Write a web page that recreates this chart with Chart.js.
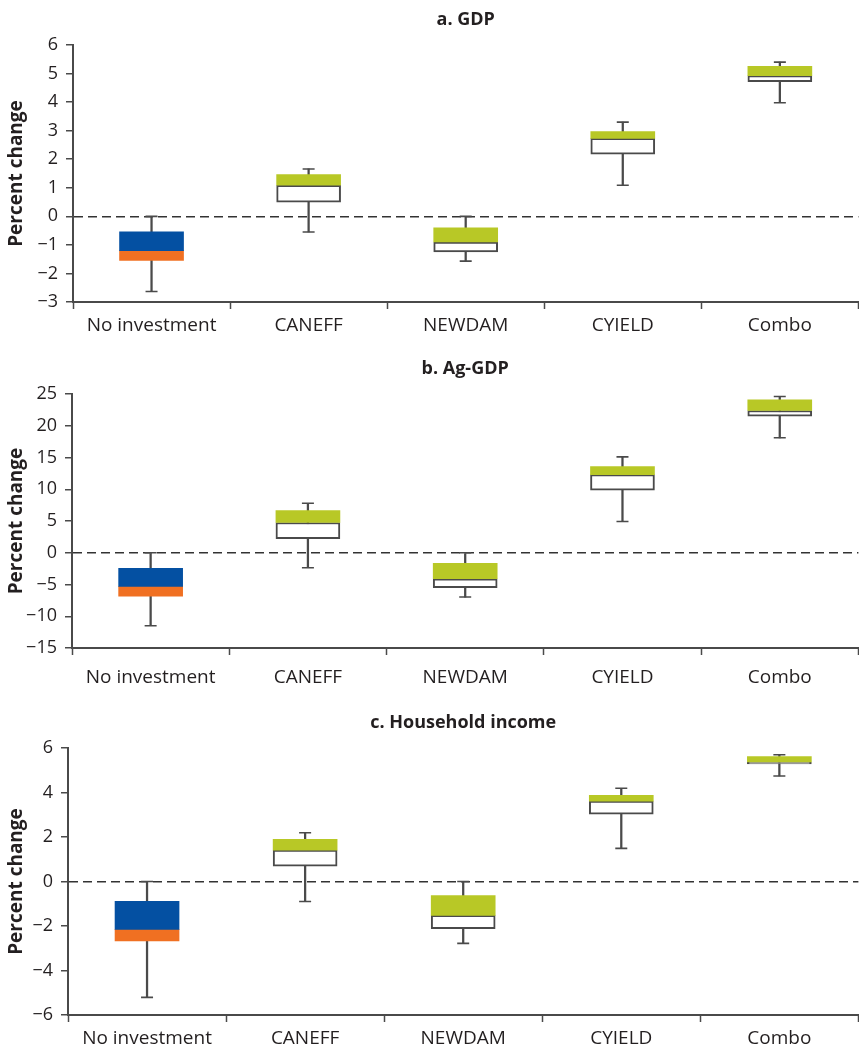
<!DOCTYPE html>
<html>
<head>
<meta charset="utf-8">
<script src="https://cdn.jsdelivr.net/npm/chart.js@4.4.1/dist/chart.umd.min.js"></script>
<style>
  html, body { margin: 0; padding: 0; background: #fff; overflow: hidden; }
  body { width: 859px; height: 1048px; position: relative; }
  canvas { position: absolute; left: 0; }
</style>
</head>
<body>
<canvas id="gdp"></canvas>
<canvas id="aggdp"></canvas>
<canvas id="income"></canvas>
<script>
const categories = ['No investment', 'CANEFF', 'NEWDAM', 'CYIELD', 'Combo'];

// a. GDP
const gdpMin = [-2.63, -0.55, -1.57, 1.09, 3.98];
const gdpQ1  = [-1.54, 0.50, -1.25, 2.18, 4.72];
const gdpMed = [-1.20, 1.09, -0.90, 2.73, 4.93];
const gdpQ3  = [-0.54, 1.46, -0.40, 2.97, 5.25];
const gdpMax = [0, 1.66, 0, 3.30, 5.40];

// b. Ag-GDP
const agMin = [-11.5, -2.36, -6.98, 4.92, 18.1];
const agQ1  = [-6.82, 2.20, -5.50, 9.85, 21.5];
const agMed = [-5.30, 4.77, -4.10, 12.3, 22.4];
const agQ3  = [-2.47, 6.65, -1.68, 13.57, 24.1];
const agMax = [0, 7.80, 0, 15.1, 24.6];

// c. Household income
const incMin = [-5.21, -0.90, -2.78, 1.49, 4.74];
const incQ1  = [-2.67, 0.69, -2.12, 3.03, 5.28];
const incMed = [-2.15, 1.41, -1.52, 3.61, 5.37];
const incQ3  = [-0.89, 1.89, -0.63, 3.87, 5.62];
const incMax = [0, 2.19, 0, 4.19, 5.70];

const BLUE = '#0450a2';
const ORANGE = '#f07022';
const GREEN = '#b8c826';
const INK = '#231f20';
const LINE = '#4a4a4a';
const FONT = "'Open Sans', sans-serif";

function pairs(a, b) {
    return a.map((v, i) => [v, b[i]]);
}

function makePanel(id, title, stats, yScale, box) {
    const el = document.getElementById(id);
    const w = 866;
    const h = box.bottom - box.top + 45 + 42;
    el.width = w;
    el.height = h;
    el.style.top = (box.top - 45) + 'px';
    el.style.width = w + 'px';
    el.style.height = h + 'px';

    const upperColors = categories.map((c, i) => i === 0 ? BLUE : GREEN);
    const lowerColors = categories.map((c, i) => i === 0 ? ORANGE : '#ffffff');
    const lowerBorders = categories.map((c, i) => i === 0 ? 0 : 2);

    return new Chart(el.getContext('2d'), {
        type: 'bar',
        data: {
            labels: categories,
            datasets: [
                {
                    type: 'line', data: stats.max, order: 0, showLine: false,
                    pointStyle: 'line', pointRadius: 6, pointBorderWidth: 1.6,
                    pointBorderColor: LINE, pointBackgroundColor: LINE,
                },
                {
                    type: 'line', data: stats.min, order: 0, showLine: false,
                    pointStyle: 'line', pointRadius: 6, pointBorderWidth: 1.6,
                    pointBorderColor: LINE, pointBackgroundColor: LINE,
                },
                {
                    data: pairs(stats.med, stats.q3), order: 1,
                    backgroundColor: upperColors, borderWidth: 0,
                    barThickness: 64, grouped: false,
                },
                {
                    data: pairs(stats.q1, stats.med), order: 2,
                    backgroundColor: lowerColors, borderColor: LINE,
                    borderWidth: lowerBorders, borderSkipped: false,
                    barThickness: 64, grouped: false,
                },
                {
                    data: pairs(stats.min, stats.max), order: 3,
                    backgroundColor: LINE, borderWidth: 0,
                    barThickness: 1.6, grouped: false,
                },
            ],
        },
        options: {
            responsive: false,
            animation: false,
            layout: { padding: 0 },
            plugins: {
                legend: { display: false },
                tooltip: { enabled: false },
                title: {
                    display: true,
                    text: title,
                    fullSize: false,
                    color: INK,
                    font: { family: FONT, size: 18, weight: 'bold', lineHeight: 1.2 },
                    padding: { top: 9, bottom: 14.4 },
                },
            },
            scales: {
                x: {
                    grid: { drawOnChartArea: false, tickLength: 7, tickColor: LINE, tickWidth: 1.5 },
                    border: { color: LINE, width: 2 },
                    ticks: {
                        color: INK, padding: box.xPad,
                        font: { family: FONT, size: 19 },
                    },
                    afterFit: (scale) => { scale.height = 42; },
                },
                y: {
                    min: yScale.min,
                    max: yScale.max,
                    grid: {
                        tickLength: 7,
                        tickColor: LINE,
                        tickWidth: 1.5,
                        lineWidth: 1.5,
                        color: (ctx) => (ctx.tick && ctx.tick.value === 0) ? '#333333' : 'rgba(0,0,0,0)',
                    },
                    border: {
                        color: LINE, width: 2,
                        dash: (ctx) => (ctx.tick && ctx.tick.value === 0) ? [9, 5] : [],
                    },
                    ticks: {
                        stepSize: yScale.step,
                        color: INK,
                        padding: 8,
                        font: { family: FONT, size: 18 },
                        callback: (v) => String(v).replace('-', '\u2212'),
                    },
                    title: {
                        display: true,
                        text: 'Percent change',
                        color: INK,
                        font: { family: FONT, size: 19, weight: 'bold', lineHeight: 1.2 },
                        padding: { top: 5, bottom: 0 },
                    },
                    afterFit: (scale) => { scale.width = box.left; },
                },
            },
        },
    });
}

makePanel('gdp', 'a. GDP',
    { min: gdpMin, q1: gdpQ1, med: gdpMed, q3: gdpQ3, max: gdpMax },
    { min: -3, max: 6, step: 1 },
    { top: 45, bottom: 302, left: 73, xPad: 5 });

makePanel('aggdp', 'b. Ag-GDP',
    { min: agMin, q1: agQ1, med: agMed, q3: agQ3, max: agMax },
    { min: -15, max: 25, step: 5 },
    { top: 394, bottom: 648, left: 72, xPad: 11 });

makePanel('income', 'c. Household income',
    { min: incMin, q1: incQ1, med: incMed, q3: incQ3, max: incMax },
    { min: -6, max: 6, step: 2 },
    { top: 748, bottom: 1015, left: 68, xPad: 5 });
</script>
</body>
</html>
